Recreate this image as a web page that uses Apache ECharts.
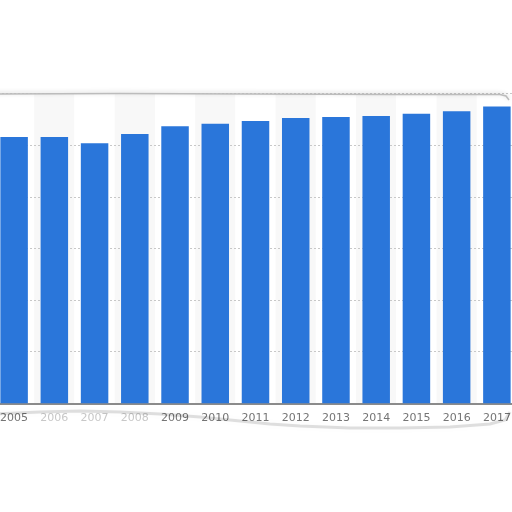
<!DOCTYPE html>
<html><head><meta charset="utf-8">
<script src="https://cdn.jsdelivr.net/npm/echarts@6/dist/echarts.min.js"></script>
<style>html,body{margin:0;padding:0;background:#fff;overflow:hidden;width:512px;height:512px}#c{width:524px;height:512px;margin-left:-6px}</style>
</head><body><div id="c"></div>
<script>
const years = ['2005','2006','2007','2008','2009','2010','2011','2012','2013','2014','2015','2016','2017'];
const values = [51.6, 51.6, 50.4, 52.2, 53.7, 54.2, 54.7, 55.3, 55.5, 55.7, 56.1, 56.6, 57.5];
const fadedYears = ['2006','2007','2008'];

const chart = echarts.init(document.getElementById('c'));
chart.setOption({
  animation: false,
  backgroundColor: '#ffffff',
  grid: { left: 0, width: 523, top: 93.7, bottom: 108.7, containLabel: false },
  xAxis: {
    type: 'category',
    data: years,
    z: 0,
    axisLine: { show: true, lineStyle: { color: '#666', width: 1.5 } },
    axisTick: { show: false },
    axisLabel: {
      margin: 9,
      fontFamily: 'DejaVu Sans',
      fontSize: 11,
      color: function (v) { return fadedYears.indexOf(v) >= 0 ? '#c8c8c8' : '#757575'; }
    },
    splitArea: { show: true, areaStyle: { color: ['#ffffff', '#f8f8f8'] } }
  },
  yAxis: {
    type: 'value',
    z: 1,
    min: 0, max: 60, interval: 10,
    axisLabel: { show: false },
    axisLine: { show: false },
    axisTick: { show: false },
    splitLine: { showMinLine: false, lineStyle: { color: '#c8c8c8', type: [2, 2], width: 1 } }
  },
  series: [{
    type: 'bar',
    data: values,
    barWidth: 27.5,
    z: 3,
    itemStyle: { color: '#2a76da' }
  }],
  graphic: [
    { type: 'rect', shape: { x: 0, y: 0, width: 524, height: 93 }, style: { fill: '#ffffff' }, z: 50 },
    { type: 'polyline', shape: { points: [[0,94],[126,93.5],[256,94],[406,94.5],[506,94.5],[512,96],[515,100]] },
      style: { stroke: '#bcbcbc', lineWidth: 1.5, fill: null, shadowBlur: 4, shadowColor: 'rgba(0,0,0,0.2)', shadowOffsetY: -1 }, z: 51 },
    { type: 'polyline', shape: { points: [[0,414],[46,412],[86,411],[126,412],[166,414],[206,417],[246,421],[276,424],[306,426],[356,428],[406,428],[456,427],[496,424],[511,420],[516,412]] },
      style: { stroke: 'rgba(0,0,0,0.12)', lineWidth: 3, fill: null, shadowBlur: 6, shadowColor: 'rgba(0,0,0,0.22)' }, z: 51 }
  ]
});
</script>
</body></html>
